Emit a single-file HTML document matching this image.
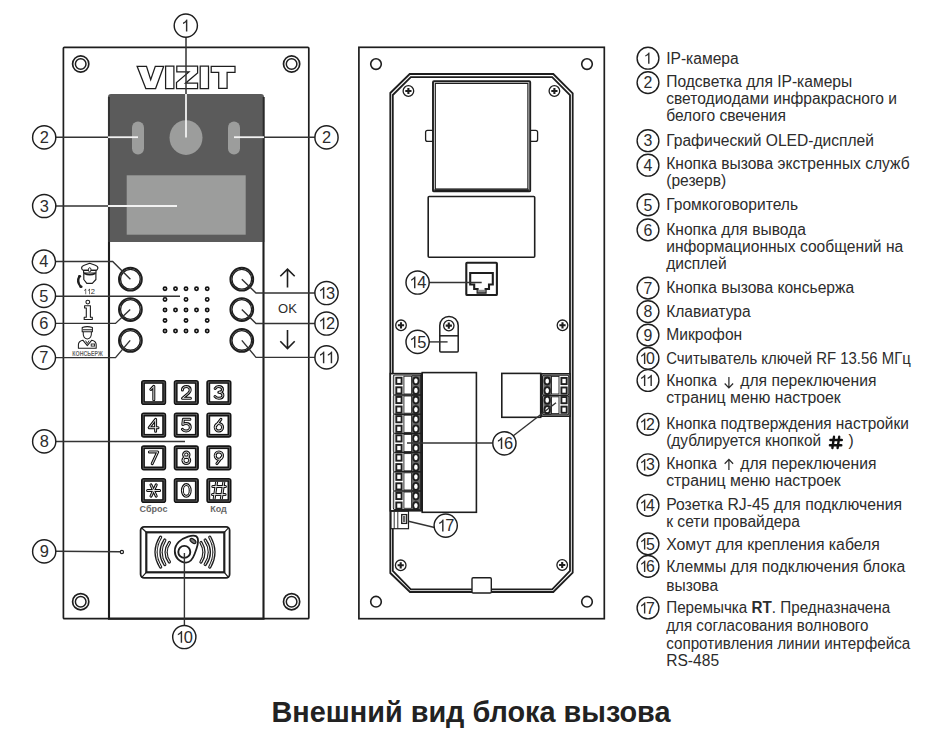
<!DOCTYPE html>
<html><head><meta charset="utf-8"><style>
html,body{margin:0;padding:0;background:#fff;}
svg{display:block;}
text{font-family:"Liberation Sans",sans-serif;}
</style></head><body>
<svg width="950" height="750" viewBox="0 0 950 750">
<rect width="950" height="750" fill="#fff"/>
<rect x="63.4" y="47.3" width="245.4" height="571.4" fill="#fff" stroke="#1e1e1e" stroke-width="1.7" rx="1"/>
<circle cx="80.7" cy="64" r="8.1" fill="none" stroke="#1e1e1e" stroke-width="1.7"/>
<circle cx="80.7" cy="64" r="5.3" fill="none" stroke="#1e1e1e" stroke-width="1.5"/>
<circle cx="291.6" cy="64" r="8.1" fill="none" stroke="#1e1e1e" stroke-width="1.7"/>
<circle cx="291.6" cy="64" r="5.3" fill="none" stroke="#1e1e1e" stroke-width="1.5"/>
<circle cx="80.7" cy="601.7" r="8.1" fill="none" stroke="#1e1e1e" stroke-width="1.7"/>
<circle cx="80.7" cy="601.7" r="5.3" fill="none" stroke="#1e1e1e" stroke-width="1.5"/>
<circle cx="291.6" cy="601.7" r="8.1" fill="none" stroke="#1e1e1e" stroke-width="1.7"/>
<circle cx="291.6" cy="601.7" r="5.3" fill="none" stroke="#1e1e1e" stroke-width="1.5"/>
<path d="M109,97 V618.6 H263.5 V97" fill="#fff" stroke="#1e1e1e" stroke-width="2.1"/>
<path d="M108,242 V97 Q108,94 111,94 H261 Q264,94 264,97 V242 Z" fill="#5b5b5b"/>
<path d="M109,97 V242 M263.5,97 V242" fill="none" stroke="#2a2a2a" stroke-width="1.6"/>
<rect x="132" y="121.5" width="12" height="33" rx="6" fill="#9c9d9c"/>
<rect x="228" y="121.5" width="12" height="33" rx="6" fill="#9c9d9c"/>
<ellipse cx="186" cy="137.6" rx="16.5" ry="17.3" fill="#9c9d9c"/>
<rect x="126.7" y="175.3" width="119" height="59.4" fill="#9c9d9c"/>
<polygon points="137.1,66.3 146.5,66.3 150.7,79.8 155.3,66.3 163.7,66.3 155.6,88.5 145.8,88.5" fill="#fff" stroke="#1e1e1e" stroke-width="1.25" stroke-linejoin="miter"/>
<polygon points="165.6,66.2 173.9,66.2 173.9,88.6 165.6,88.6" fill="#fff" stroke="#1e1e1e" stroke-width="1.25" stroke-linejoin="miter"/>
<polygon points="176.8,66.2 197.6,66.2 197.6,73 185.5,83.2 197.6,83.2 197.6,88.6 176.5,88.6 176.5,82.6 189,71.9 176.8,71.9" fill="#fff" stroke="#1e1e1e" stroke-width="1.25" stroke-linejoin="miter"/>
<polygon points="200.2,66.2 208.5,66.2 208.5,88.6 200.2,88.6" fill="#fff" stroke="#1e1e1e" stroke-width="1.25" stroke-linejoin="miter"/>
<polygon points="211.2,66.4 235,66.4 235,72.4 227.1,72.4 227.1,88.3 218.7,88.3 218.7,72.4 211.2,72.4" fill="#fff" stroke="#1e1e1e" stroke-width="1.25" stroke-linejoin="miter"/>
<polyline points="186,37 186,94" fill="none" stroke="#333" stroke-width="1.5"/>
<polyline points="186,94 186,137.5" fill="none" stroke="#f2f2f2" stroke-width="1.8"/>
<polyline points="55.5,137.2 108,137.2" fill="none" stroke="#333" stroke-width="1.4"/>
<polyline points="108,137.2 138,137.2" fill="none" stroke="#f2f2f2" stroke-width="1.8"/>
<polyline points="264,137.2 315,137.2" fill="none" stroke="#333" stroke-width="1.4"/>
<polyline points="234,137.2 264,137.2" fill="none" stroke="#f2f2f2" stroke-width="1.8"/>
<polyline points="55.5,206 108,206" fill="none" stroke="#333" stroke-width="1.4"/>
<polyline points="108,206 177,206" fill="none" stroke="#f2f2f2" stroke-width="1.8"/>
<circle cx="130.4" cy="279.2" r="11.4" fill="#fff" stroke="#1e1e1e" stroke-width="1.95"/>
<circle cx="130.4" cy="279.2" r="9.85" fill="none" stroke="#1e1e1e" stroke-width="1.35"/>
<circle cx="241.8" cy="279.2" r="11.4" fill="#fff" stroke="#1e1e1e" stroke-width="1.95"/>
<circle cx="241.8" cy="279.2" r="9.85" fill="none" stroke="#1e1e1e" stroke-width="1.35"/>
<circle cx="130.4" cy="309.5" r="11.4" fill="#fff" stroke="#1e1e1e" stroke-width="1.95"/>
<circle cx="130.4" cy="309.5" r="9.85" fill="none" stroke="#1e1e1e" stroke-width="1.35"/>
<circle cx="241.8" cy="309.5" r="11.4" fill="#fff" stroke="#1e1e1e" stroke-width="1.95"/>
<circle cx="241.8" cy="309.5" r="9.85" fill="none" stroke="#1e1e1e" stroke-width="1.35"/>
<circle cx="130.4" cy="340.4" r="11.4" fill="#fff" stroke="#1e1e1e" stroke-width="1.95"/>
<circle cx="130.4" cy="340.4" r="9.85" fill="none" stroke="#1e1e1e" stroke-width="1.35"/>
<circle cx="241.8" cy="340.4" r="11.4" fill="#fff" stroke="#1e1e1e" stroke-width="1.95"/>
<circle cx="241.8" cy="340.4" r="9.85" fill="none" stroke="#1e1e1e" stroke-width="1.35"/>
<polyline points="55.5,261.5 112.7,261.5 130.4,279.2" fill="none" stroke="#333" stroke-width="1.4"/>
<polyline points="55.5,296.2 180,296.2" fill="none" stroke="#333" stroke-width="1.4"/>
<polyline points="55.5,323.4 115.5,323.4 130.2,309.5" fill="none" stroke="#333" stroke-width="1.4"/>
<polyline points="55.5,357.6 115.5,357.6 130.2,340.4" fill="none" stroke="#333" stroke-width="1.4"/>
<polyline points="241.8,279.2 256,293 315,293" fill="none" stroke="#333" stroke-width="1.4"/>
<polyline points="241.8,309.5 256,323.5 315,323.5" fill="none" stroke="#333" stroke-width="1.4"/>
<polyline points="241.8,340.4 256,357.4 315,357.4" fill="none" stroke="#333" stroke-width="1.4"/>
<circle cx="165" cy="288.8" r="1.65" fill="#fff" stroke="#111" stroke-width="1.65"/>
<circle cx="175.5" cy="288.8" r="1.65" fill="#fff" stroke="#111" stroke-width="1.65"/>
<circle cx="186" cy="288.8" r="1.65" fill="#fff" stroke="#111" stroke-width="1.65"/>
<circle cx="196.5" cy="288.8" r="1.65" fill="#fff" stroke="#111" stroke-width="1.65"/>
<circle cx="207.2" cy="288.8" r="1.65" fill="#fff" stroke="#111" stroke-width="1.65"/>
<circle cx="165" cy="299.4" r="1.65" fill="#fff" stroke="#111" stroke-width="1.65"/>
<circle cx="186" cy="299.4" r="1.65" fill="#fff" stroke="#111" stroke-width="1.65"/>
<circle cx="207.2" cy="299.4" r="1.65" fill="#fff" stroke="#111" stroke-width="1.65"/>
<circle cx="165" cy="310" r="1.65" fill="#fff" stroke="#111" stroke-width="1.65"/>
<circle cx="175.5" cy="310" r="1.65" fill="#fff" stroke="#111" stroke-width="1.65"/>
<circle cx="186" cy="310" r="1.65" fill="#fff" stroke="#111" stroke-width="1.65"/>
<circle cx="196.5" cy="310" r="1.65" fill="#fff" stroke="#111" stroke-width="1.65"/>
<circle cx="207.2" cy="310" r="1.65" fill="#fff" stroke="#111" stroke-width="1.65"/>
<circle cx="165" cy="320.5" r="1.65" fill="#fff" stroke="#111" stroke-width="1.65"/>
<circle cx="186" cy="320.5" r="1.65" fill="#fff" stroke="#111" stroke-width="1.65"/>
<circle cx="207.2" cy="320.5" r="1.65" fill="#fff" stroke="#111" stroke-width="1.65"/>
<circle cx="165" cy="331" r="1.65" fill="#fff" stroke="#111" stroke-width="1.65"/>
<circle cx="175.5" cy="331" r="1.65" fill="#fff" stroke="#111" stroke-width="1.65"/>
<circle cx="186" cy="331" r="1.65" fill="#fff" stroke="#111" stroke-width="1.65"/>
<circle cx="196.5" cy="331" r="1.65" fill="#fff" stroke="#111" stroke-width="1.65"/>
<circle cx="207.2" cy="331" r="1.65" fill="#fff" stroke="#111" stroke-width="1.65"/>
<path d="M287.5,287.5 V269.3 M280.3,276.3 L287.5,269.1 L294.7,276.3" fill="none" stroke="#1e1e1e" stroke-width="1.6"/>
<text x="287.5" y="313.4" font-size="13" text-anchor="middle" fill="#2c2c2c">OK</text>
<path d="M287.5,330 V348.3 M280.3,341.3 L287.5,348.5 L294.7,341.3" fill="none" stroke="#1e1e1e" stroke-width="1.6"/>
<rect x="141.8" y="380.7" width="23.6" height="23.6" rx="2" fill="#141414" stroke="#141414" stroke-width="1.6"/>
<rect x="143.1" y="382.0" width="21" height="21" fill="none" stroke="#8a8a8a" stroke-width="0.55"/>
<rect x="144.9" y="383.79999999999995" width="17.3" height="17.4" fill="#fff"/>
<clipPath id="kc0"><rect x="144.9" y="383.79999999999995" width="17.3" height="17.4"/></clipPath>
<g clip-path="url(#kc0)">
<path d="M1.4,2.9 L4.4,-0.3 V13.2" transform="translate(149.4,386.59999999999997)" fill="none" stroke="#111" stroke-width="3.0" stroke-linecap="round" stroke-linejoin="round"/>
<path d="M1.4,2.9 L4.4,-0.3 V13.2" transform="translate(149.4,386.59999999999997)" fill="none" stroke="#fff" stroke-width="0.85" stroke-linecap="round" stroke-linejoin="round"/>
</g>
<rect x="174.5" y="380.7" width="23.6" height="23.6" rx="2" fill="#141414" stroke="#141414" stroke-width="1.6"/>
<rect x="175.79999999999998" y="382.0" width="21" height="21" fill="none" stroke="#8a8a8a" stroke-width="0.55"/>
<rect x="177.6" y="383.79999999999995" width="17.3" height="17.4" fill="#fff"/>
<clipPath id="kc1"><rect x="177.6" y="383.79999999999995" width="17.3" height="17.4"/></clipPath>
<g clip-path="url(#kc1)">
<path d="M0.3,3.3 C0.3,1.2 2,0 4.2,0 C6.4,0 8.1,1.3 8.1,3.4 C8.1,4.9 7.3,5.8 6.3,6.7 L0.4,11.7 H8.3" transform="translate(182.1,386.59999999999997)" fill="none" stroke="#111" stroke-width="3.0" stroke-linecap="round" stroke-linejoin="round"/>
<path d="M0.3,3.3 C0.3,1.2 2,0 4.2,0 C6.4,0 8.1,1.3 8.1,3.4 C8.1,4.9 7.3,5.8 6.3,6.7 L0.4,11.7 H8.3" transform="translate(182.1,386.59999999999997)" fill="none" stroke="#fff" stroke-width="0.85" stroke-linecap="round" stroke-linejoin="round"/>
</g>
<rect x="207.10000000000002" y="380.7" width="23.6" height="23.6" rx="2" fill="#141414" stroke="#141414" stroke-width="1.6"/>
<rect x="208.4" y="382.0" width="21" height="21" fill="none" stroke="#8a8a8a" stroke-width="0.55"/>
<rect x="210.20000000000002" y="383.79999999999995" width="17.3" height="17.4" fill="#fff"/>
<clipPath id="kc2"><rect x="210.20000000000002" y="383.79999999999995" width="17.3" height="17.4"/></clipPath>
<g clip-path="url(#kc2)">
<path d="M0.5,1.8 C1.2,0.6 2.6,0 4.1,0 C6.3,0 7.8,1.3 7.8,3 C7.8,4.6 6.4,5.6 4.1,5.6 C6.6,5.6 8.2,6.9 8.2,8.6 C8.2,10.5 6.5,11.7 4.1,11.7 C2.5,11.7 1,11 0.3,9.9" transform="translate(214.70000000000002,386.59999999999997)" fill="none" stroke="#111" stroke-width="3.0" stroke-linecap="round" stroke-linejoin="round"/>
<path d="M0.5,1.8 C1.2,0.6 2.6,0 4.1,0 C6.3,0 7.8,1.3 7.8,3 C7.8,4.6 6.4,5.6 4.1,5.6 C6.6,5.6 8.2,6.9 8.2,8.6 C8.2,10.5 6.5,11.7 4.1,11.7 C2.5,11.7 1,11 0.3,9.9" transform="translate(214.70000000000002,386.59999999999997)" fill="none" stroke="#fff" stroke-width="0.85" stroke-linecap="round" stroke-linejoin="round"/>
</g>
<rect x="141.8" y="413.40000000000003" width="23.6" height="23.6" rx="2" fill="#141414" stroke="#141414" stroke-width="1.6"/>
<rect x="143.1" y="414.70000000000005" width="21" height="21" fill="none" stroke="#8a8a8a" stroke-width="0.55"/>
<rect x="144.9" y="416.5" width="17.3" height="17.4" fill="#fff"/>
<clipPath id="kc3"><rect x="144.9" y="416.5" width="17.3" height="17.4"/></clipPath>
<g clip-path="url(#kc3)">
<path d="M6.2,11.9 V0 L-0.2,8.4 H8.6" transform="translate(149.4,419.3)" fill="none" stroke="#111" stroke-width="3.0" stroke-linecap="round" stroke-linejoin="round"/>
<path d="M6.2,11.9 V0 L-0.2,8.4 H8.6" transform="translate(149.4,419.3)" fill="none" stroke="#fff" stroke-width="0.85" stroke-linecap="round" stroke-linejoin="round"/>
</g>
<rect x="174.5" y="413.40000000000003" width="23.6" height="23.6" rx="2" fill="#141414" stroke="#141414" stroke-width="1.6"/>
<rect x="175.79999999999998" y="414.70000000000005" width="21" height="21" fill="none" stroke="#8a8a8a" stroke-width="0.55"/>
<rect x="177.6" y="416.5" width="17.3" height="17.4" fill="#fff"/>
<clipPath id="kc4"><rect x="177.6" y="416.5" width="17.3" height="17.4"/></clipPath>
<g clip-path="url(#kc4)">
<path d="M7.8,0 H1.3 L0.7,5.2 C1.5,4.6 2.7,4.3 4,4.3 C6.5,4.3 8.2,5.8 8.2,8 C8.2,10.2 6.4,11.7 4,11.7 C2.4,11.7 1,11.1 0.3,10" transform="translate(182.1,419.3)" fill="none" stroke="#111" stroke-width="3.0" stroke-linecap="round" stroke-linejoin="round"/>
<path d="M7.8,0 H1.3 L0.7,5.2 C1.5,4.6 2.7,4.3 4,4.3 C6.5,4.3 8.2,5.8 8.2,8 C8.2,10.2 6.4,11.7 4,11.7 C2.4,11.7 1,11.1 0.3,10" transform="translate(182.1,419.3)" fill="none" stroke="#fff" stroke-width="0.85" stroke-linecap="round" stroke-linejoin="round"/>
</g>
<rect x="207.10000000000002" y="413.40000000000003" width="23.6" height="23.6" rx="2" fill="#141414" stroke="#141414" stroke-width="1.6"/>
<rect x="208.4" y="414.70000000000005" width="21" height="21" fill="none" stroke="#8a8a8a" stroke-width="0.55"/>
<rect x="210.20000000000002" y="416.5" width="17.3" height="17.4" fill="#fff"/>
<clipPath id="kc5"><rect x="210.20000000000002" y="416.5" width="17.3" height="17.4"/></clipPath>
<g clip-path="url(#kc5)">
<path d="M6.2,0 L1.2,6.6 M0.5,8 A3.7,3.7 0 1 0 7.9,8 A3.7,3.7 0 1 0 0.5,8" transform="translate(214.70000000000002,419.3)" fill="none" stroke="#111" stroke-width="3.0" stroke-linecap="round" stroke-linejoin="round"/>
<path d="M6.2,0 L1.2,6.6 M0.5,8 A3.7,3.7 0 1 0 7.9,8 A3.7,3.7 0 1 0 0.5,8" transform="translate(214.70000000000002,419.3)" fill="none" stroke="#fff" stroke-width="0.85" stroke-linecap="round" stroke-linejoin="round"/>
</g>
<rect x="141.8" y="446.0" width="23.6" height="23.6" rx="2" fill="#141414" stroke="#141414" stroke-width="1.6"/>
<rect x="143.1" y="447.3" width="21" height="21" fill="none" stroke="#8a8a8a" stroke-width="0.55"/>
<rect x="144.9" y="449.09999999999997" width="17.3" height="17.4" fill="#fff"/>
<clipPath id="kc6"><rect x="144.9" y="449.09999999999997" width="17.3" height="17.4"/></clipPath>
<g clip-path="url(#kc6)">
<path d="M0,0 H8.3 L2.8,11.8" transform="translate(149.4,451.9)" fill="none" stroke="#111" stroke-width="3.0" stroke-linecap="round" stroke-linejoin="round"/>
<path d="M0,0 H8.3 L2.8,11.8" transform="translate(149.4,451.9)" fill="none" stroke="#fff" stroke-width="0.85" stroke-linecap="round" stroke-linejoin="round"/>
</g>
<rect x="174.5" y="446.0" width="23.6" height="23.6" rx="2" fill="#141414" stroke="#141414" stroke-width="1.6"/>
<rect x="175.79999999999998" y="447.3" width="21" height="21" fill="none" stroke="#8a8a8a" stroke-width="0.55"/>
<rect x="177.6" y="449.09999999999997" width="17.3" height="17.4" fill="#fff"/>
<clipPath id="kc7"><rect x="177.6" y="449.09999999999997" width="17.3" height="17.4"/></clipPath>
<g clip-path="url(#kc7)">
<path d="M1.5,2.8 A2.7,2.7 0 1 0 6.9,2.8 A2.7,2.7 0 1 0 1.5,2.8 M0.8,8.4 A3.4,3.3 0 1 0 7.6,8.4 A3.4,3.3 0 1 0 0.8,8.4" transform="translate(182.1,451.9)" fill="none" stroke="#111" stroke-width="3.0" stroke-linecap="round" stroke-linejoin="round"/>
<path d="M1.5,2.8 A2.7,2.7 0 1 0 6.9,2.8 A2.7,2.7 0 1 0 1.5,2.8 M0.8,8.4 A3.4,3.3 0 1 0 7.6,8.4 A3.4,3.3 0 1 0 0.8,8.4" transform="translate(182.1,451.9)" fill="none" stroke="#fff" stroke-width="0.85" stroke-linecap="round" stroke-linejoin="round"/>
</g>
<rect x="207.10000000000002" y="446.0" width="23.6" height="23.6" rx="2" fill="#141414" stroke="#141414" stroke-width="1.6"/>
<rect x="208.4" y="447.3" width="21" height="21" fill="none" stroke="#8a8a8a" stroke-width="0.55"/>
<rect x="210.20000000000002" y="449.09999999999997" width="17.3" height="17.4" fill="#fff"/>
<clipPath id="kc8"><rect x="210.20000000000002" y="449.09999999999997" width="17.3" height="17.4"/></clipPath>
<g clip-path="url(#kc8)">
<path d="M0.5,3.7 A3.7,3.7 0 1 0 7.9,3.7 A3.7,3.7 0 1 0 0.5,3.7 M7.2,5.1 L2.2,11.7" transform="translate(214.70000000000002,451.9)" fill="none" stroke="#111" stroke-width="3.0" stroke-linecap="round" stroke-linejoin="round"/>
<path d="M0.5,3.7 A3.7,3.7 0 1 0 7.9,3.7 A3.7,3.7 0 1 0 0.5,3.7 M7.2,5.1 L2.2,11.7" transform="translate(214.70000000000002,451.9)" fill="none" stroke="#fff" stroke-width="0.85" stroke-linecap="round" stroke-linejoin="round"/>
</g>
<rect x="141.8" y="478.7" width="23.6" height="23.6" rx="2" fill="#141414" stroke="#141414" stroke-width="1.6"/>
<rect x="143.1" y="480.0" width="21" height="21" fill="none" stroke="#8a8a8a" stroke-width="0.55"/>
<rect x="144.9" y="481.79999999999995" width="17.3" height="17.4" fill="#fff"/>
<clipPath id="kc9"><rect x="144.9" y="481.79999999999995" width="17.3" height="17.4"/></clipPath>
<g clip-path="url(#kc9)">
<path d="M-1.8,5.9 H10.2 M1.6,0.3 L6.8,11.5 M6.8,0.3 L1.6,11.5" transform="translate(149.4,484.59999999999997)" fill="none" stroke="#111" stroke-width="3.0" stroke-linecap="round" stroke-linejoin="round"/>
<path d="M-1.8,5.9 H10.2 M1.6,0.3 L6.8,11.5 M6.8,0.3 L1.6,11.5" transform="translate(149.4,484.59999999999997)" fill="none" stroke="#fff" stroke-width="0.85" stroke-linecap="round" stroke-linejoin="round"/>
</g>
<rect x="174.5" y="478.7" width="23.6" height="23.6" rx="2" fill="#141414" stroke="#141414" stroke-width="1.6"/>
<rect x="175.79999999999998" y="480.0" width="21" height="21" fill="none" stroke="#8a8a8a" stroke-width="0.55"/>
<rect x="177.6" y="481.79999999999995" width="17.3" height="17.4" fill="#fff"/>
<clipPath id="kc10"><rect x="177.6" y="481.79999999999995" width="17.3" height="17.4"/></clipPath>
<g clip-path="url(#kc10)">
<path d="M0.3,5.85 A3.9,5.85 0 1 0 8.1,5.85 A3.9,5.85 0 1 0 0.3,5.85" transform="translate(182.1,484.59999999999997)" fill="none" stroke="#111" stroke-width="3.0" stroke-linecap="round" stroke-linejoin="round"/>
<path d="M0.3,5.85 A3.9,5.85 0 1 0 8.1,5.85 A3.9,5.85 0 1 0 0.3,5.85" transform="translate(182.1,484.59999999999997)" fill="none" stroke="#fff" stroke-width="0.85" stroke-linecap="round" stroke-linejoin="round"/>
</g>
<rect x="207.10000000000002" y="478.7" width="23.6" height="23.6" rx="2" fill="#141414" stroke="#141414" stroke-width="1.6"/>
<rect x="208.4" y="480.0" width="21" height="21" fill="none" stroke="#8a8a8a" stroke-width="0.55"/>
<rect x="210.20000000000002" y="481.79999999999995" width="17.3" height="17.4" fill="#fff"/>
<clipPath id="kc11"><rect x="210.20000000000002" y="481.79999999999995" width="17.3" height="17.4"/></clipPath>
<g clip-path="url(#kc11)">
<path d="M1.9,-2.6 L-0.5,14 M9.1,-2.6 L6.7,14 M-1.9,1.9 H10.7 M-2.2,10 H10.4" transform="translate(214.70000000000002,484.59999999999997)" fill="none" stroke="#111" stroke-width="3.0" stroke-linecap="round" stroke-linejoin="round"/>
<path d="M1.9,-2.6 L-0.5,14 M9.1,-2.6 L6.7,14 M-1.9,1.9 H10.7 M-2.2,10 H10.4" transform="translate(214.70000000000002,484.59999999999997)" fill="none" stroke="#fff" stroke-width="0.85" stroke-linecap="round" stroke-linejoin="round"/>
</g>
<text x="153.5" y="511.8" font-size="9" font-weight="bold" text-anchor="middle" fill="#666">Сброс</text>
<text x="218.5" y="511.8" font-size="9" font-weight="bold" text-anchor="middle" fill="#666">Код</text>
<polyline points="55.5,441.5 185,441.5" fill="none" stroke="#333" stroke-width="1.4"/>
<rect x="140.6" y="526.8" width="89" height="51" rx="3.5" fill="#fff" stroke="#1e1e1e" stroke-width="1.8"/>
<rect x="146.3" y="532.3" width="78" height="40" fill="none" stroke="#1e1e1e" stroke-width="2.2"/>
<path d="M141.5,527.7 L146.3,532.3 M228.7,527.7 L224.3,532.3 M141.5,577.7 L146.3,572.3 M228.7,577.7 L224.3,572.3" stroke="#1e1e1e" stroke-width="1.2"/>
<path d="M160.6,537.2 Q151.4,552.1 160.6,567 M164.8,540.1 Q157.2,552.3 164.8,564.5 M169.4,542.6 Q162.6,552.3 169.4,562 M209.8,537.2 Q218.2,552.1 209.8,567 M205.2,540.1 Q213.6,552.3 205.2,564.5 M201,542.6 Q207,552.3 201,562" fill="none" stroke="#1e1e1e" stroke-width="3.3" stroke-linecap="round"/>
<path d="M160.6,537.2 Q151.4,552.1 160.6,567 M164.8,540.1 Q157.2,552.3 164.8,564.5 M169.4,542.6 Q162.6,552.3 169.4,562 M209.8,537.2 Q218.2,552.1 209.8,567 M205.2,540.1 Q213.6,552.3 205.2,564.5 M201,542.6 Q207,552.3 201,562" fill="none" stroke="#fff" stroke-width="0.95" stroke-linecap="round"/>
<path d="M186,562.6 C179.5,562.6 174.8,557.5 174.8,551 C174.8,544 181,538.7 188,536.6 C193,535.1 196.8,535.2 197.8,538.5 C198.8,542 197,548 194.6,554 C192.6,559.5 190,562.6 186,562.6 Z" fill="#fff" stroke="#1e1e1e" stroke-width="1.8"/>
<circle cx="184.3" cy="551.9" r="6" fill="#fff" stroke="#1e1e1e" stroke-width="1.9"/>
<ellipse cx="193" cy="541" rx="3.3" ry="1.7" transform="rotate(35 193 541)" fill="#fff" stroke="#1e1e1e" stroke-width="1.3"/>
<ellipse cx="193" cy="541" rx="2.1" ry="0.5" transform="rotate(35 193 541)" fill="none" stroke="#1e1e1e" stroke-width="0.7"/>
<circle cx="121.9" cy="552" r="1.6" fill="#fff" stroke="#1e1e1e" stroke-width="1.2"/>
<polyline points="55.5,551.3 120.2,551.8" fill="none" stroke="#333" stroke-width="1.4"/>
<polyline points="184.4,553 184.4,625.5" fill="none" stroke="#333" stroke-width="1.4"/>
<g fill="#fff" stroke="#1e1e1e" stroke-width="1.15" stroke-linejoin="round"><path d="M83.8,273.3 V279.5 L86.8,283.4 H92.3 L95.9,279.5 V273.3"/><path d="M81.6,268.2 Q81.4,266.3 84.2,265.2 L89.7,263.3 L95.3,265.2 Q98.1,266.3 97.9,268.2 Q97.4,270.4 96,270.4 H83.4 Q82,270.4 81.6,268.2 Z"/><rect x="83.6" y="270.4" width="12.4" height="2.6"/></g>
<path d="M84,273.2 Q89.8,276.2 95.6,273.2" fill="none" stroke="#1e1e1e" stroke-width="1.6"/>
<ellipse cx="89.7" cy="269.8" rx="1.3" ry="2.1" fill="#fff" stroke="#1e1e1e" stroke-width="1"/>
<path d="M79.4,276.4 Q76.4,281.5 80.6,286.6" fill="none" stroke="#1e1e1e" stroke-width="2.3" stroke-linecap="round"/>
<ellipse cx="79.6" cy="276.3" rx="1.5" ry="1.3" fill="#1e1e1e"/>
<ellipse cx="81" cy="286.8" rx="1.6" ry="1.3" fill="#1e1e1e"/>
<path d="M763,0 H583 V1147 Q518,1085 412,1023 Q306,961 222,930 V1104 Q373,1175 486,1276 Q599,1377 646,1472 H763 Z" transform="translate(83.31,294.30) scale(0.00371,-0.00371)" fill="#333"/>
<path d="M763,0 H583 V1147 Q518,1085 412,1023 Q306,961 222,930 V1104 Q373,1175 486,1276 Q599,1377 646,1472 H763 Z" transform="translate(87.09,294.30) scale(0.00371,-0.00371)" fill="#333"/>
<text x="90.86" y="294.30" font-size="7.6" fill="#333">2</text>
<circle cx="87.8" cy="302.1" r="1.9" fill="#fff" stroke="#1e1e1e" stroke-width="1.1"/>
<path d="M84.6,305.8 H90.4 V317.2 H92.3 V319.5 H84.2 V317.2 H86.3 V308 H84.6 Z" fill="#fff" stroke="#1e1e1e" stroke-width="1.1" stroke-linejoin="round"/>
<g fill="#fff" stroke="#1e1e1e" stroke-width="1.05" stroke-linejoin="round"><path d="M78.4,348.3 V344.8 Q78.4,341.2 82.8,340.2 L87.3,345.6 L91.8,340.2 Q96.2,341.2 96.2,344.8 V348.3 Z"/><path d="M83.2,331.6 Q82.8,338.8 87.3,338.9 Q91.8,338.8 91.4,331.6"/><path d="M82.2,331.8 V327.6 Q87.3,325.6 92.4,327.6 V331.8 Z"/></g>
<path d="M82.6,329.7 H92" stroke="#555" stroke-width="1.4"/>
<path d="M85.6,340.6 L87.3,343.6 L89,340.6" fill="none" stroke="#1e1e1e" stroke-width="0.9"/>
<rect x="91.2" y="344" width="3.4" height="2.1" fill="#fff" stroke="#1e1e1e" stroke-width="0.9"/>
<text x="87.6" y="355.7" font-size="6.3" font-weight="bold" text-anchor="middle" fill="#666" textLength="30.5" lengthAdjust="spacingAndGlyphs">КОНСЬЕРЖ</text>
<circle cx="185.8" cy="25.6" r="11.6" fill="#fff" stroke="#1e1e1e" stroke-width="1.45"/>
<path d="M763,0 H583 V1147 Q518,1085 412,1023 Q306,961 222,930 V1104 Q373,1175 486,1276 Q599,1377 646,1472 H763 Z" transform="translate(181.24,31.40) scale(0.00801,-0.00801)" fill="#2c2c2c"/>
<circle cx="44.2" cy="137.4" r="11.6" fill="#fff" stroke="#1e1e1e" stroke-width="1.45"/>
<text x="39.64" y="143.20" font-size="16.4" fill="#2c2c2c">2</text>
<circle cx="326.5" cy="137.4" r="11.6" fill="#fff" stroke="#1e1e1e" stroke-width="1.45"/>
<text x="321.94" y="143.20" font-size="16.4" fill="#2c2c2c">2</text>
<circle cx="44.2" cy="206" r="11.6" fill="#fff" stroke="#1e1e1e" stroke-width="1.45"/>
<text x="39.64" y="211.80" font-size="16.4" fill="#2c2c2c">3</text>
<circle cx="43.9" cy="261.5" r="11.6" fill="#fff" stroke="#1e1e1e" stroke-width="1.45"/>
<text x="39.34" y="267.30" font-size="16.4" fill="#2c2c2c">4</text>
<circle cx="43.9" cy="295.8" r="11.6" fill="#fff" stroke="#1e1e1e" stroke-width="1.45"/>
<text x="39.34" y="301.60" font-size="16.4" fill="#2c2c2c">5</text>
<circle cx="43.9" cy="323.4" r="11.6" fill="#fff" stroke="#1e1e1e" stroke-width="1.45"/>
<text x="39.34" y="329.20" font-size="16.4" fill="#2c2c2c">6</text>
<circle cx="43.9" cy="357.6" r="11.6" fill="#fff" stroke="#1e1e1e" stroke-width="1.45"/>
<text x="39.34" y="363.40" font-size="16.4" fill="#2c2c2c">7</text>
<circle cx="44.2" cy="441.4" r="11.6" fill="#fff" stroke="#1e1e1e" stroke-width="1.45"/>
<text x="39.64" y="447.20" font-size="16.4" fill="#2c2c2c">8</text>
<circle cx="44.2" cy="551.4" r="11.6" fill="#fff" stroke="#1e1e1e" stroke-width="1.45"/>
<text x="39.64" y="557.20" font-size="16.4" fill="#2c2c2c">9</text>
<circle cx="184.3" cy="637" r="11.6" fill="#fff" stroke="#1e1e1e" stroke-width="1.45"/>
<path d="M763,0 H583 V1147 Q518,1085 412,1023 Q306,961 222,930 V1104 Q373,1175 486,1276 Q599,1377 646,1472 H763 Z" transform="translate(176.03,642.80) scale(0.00801,-0.00801)" fill="#2c2c2c"/>
<text x="183.85" y="642.80" font-size="16.4" fill="#2c2c2c">0</text>
<circle cx="326.5" cy="293" r="11.6" fill="#fff" stroke="#1e1e1e" stroke-width="1.45"/>
<path d="M763,0 H583 V1147 Q518,1085 412,1023 Q306,961 222,930 V1104 Q373,1175 486,1276 Q599,1377 646,1472 H763 Z" transform="translate(318.23,298.80) scale(0.00801,-0.00801)" fill="#2c2c2c"/>
<text x="326.05" y="298.80" font-size="16.4" fill="#2c2c2c">3</text>
<circle cx="326.5" cy="323.5" r="11.6" fill="#fff" stroke="#1e1e1e" stroke-width="1.45"/>
<path d="M763,0 H583 V1147 Q518,1085 412,1023 Q306,961 222,930 V1104 Q373,1175 486,1276 Q599,1377 646,1472 H763 Z" transform="translate(318.23,329.30) scale(0.00801,-0.00801)" fill="#2c2c2c"/>
<text x="326.05" y="329.30" font-size="16.4" fill="#2c2c2c">2</text>
<circle cx="326.5" cy="357.4" r="11.6" fill="#fff" stroke="#1e1e1e" stroke-width="1.45"/>
<path d="M763,0 H583 V1147 Q518,1085 412,1023 Q306,961 222,930 V1104 Q373,1175 486,1276 Q599,1377 646,1472 H763 Z" transform="translate(318.23,363.20) scale(0.00801,-0.00801)" fill="#2c2c2c"/>
<path d="M763,0 H583 V1147 Q518,1085 412,1023 Q306,961 222,930 V1104 Q373,1175 486,1276 Q599,1377 646,1472 H763 Z" transform="translate(326.05,363.20) scale(0.00801,-0.00801)" fill="#2c2c2c"/>
<rect x="358.9" y="47.3" width="245.4" height="571.4" fill="#fff" stroke="#1e1e1e" stroke-width="1.7"/>
<circle cx="376" cy="64.1" r="5.3" fill="none" stroke="#1e1e1e" stroke-width="1.6"/>
<circle cx="587" cy="64.1" r="5.3" fill="none" stroke="#1e1e1e" stroke-width="1.6"/>
<circle cx="376" cy="601.7" r="5.3" fill="none" stroke="#1e1e1e" stroke-width="1.6"/>
<circle cx="587" cy="601.7" r="5.3" fill="none" stroke="#1e1e1e" stroke-width="1.6"/>
<path d="M390.3,573 V93 L409.7,74 H553.3 L572.7,93.4 V572.6 L553.3,592 H410 Z" fill="none" stroke="#1e1e1e" stroke-width="1.8"/>
<path d="M392.8,571 V95 L410.8,77.2 H552.2 L570,95 V571 L552.2,589.3 H410.8 Z" fill="none" stroke="#1e1e1e" stroke-width="1.8"/>
<circle cx="408.4" cy="91" r="5.3" fill="#fff" stroke="#1e1e1e" stroke-width="1.3"/>
<path d="M405.29999999999995,91 H411.5 M408.4,87.9 V94.1" stroke="#1e1e1e" stroke-width="2.1"/>
<circle cx="554.4" cy="91" r="5.3" fill="#fff" stroke="#1e1e1e" stroke-width="1.3"/>
<path d="M551.3,91 H557.5 M554.4,87.9 V94.1" stroke="#1e1e1e" stroke-width="2.1"/>
<circle cx="401" cy="325.3" r="5.3" fill="#fff" stroke="#1e1e1e" stroke-width="1.3"/>
<path d="M397.9,325.3 H404.1 M401,322.2 V328.40000000000003" stroke="#1e1e1e" stroke-width="2.1"/>
<circle cx="562.5" cy="325.3" r="5.3" fill="#fff" stroke="#1e1e1e" stroke-width="1.3"/>
<path d="M559.4,325.3 H565.6 M562.5,322.2 V328.40000000000003" stroke="#1e1e1e" stroke-width="2.1"/>
<circle cx="400.7" cy="565.3" r="5.3" fill="#fff" stroke="#1e1e1e" stroke-width="1.3"/>
<path d="M397.59999999999997,565.3 H403.8 M400.7,562.1999999999999 V568.4" stroke="#1e1e1e" stroke-width="2.1"/>
<circle cx="562.2" cy="565" r="5.3" fill="#fff" stroke="#1e1e1e" stroke-width="1.3"/>
<path d="M559.1,565 H565.3000000000001 M562.2,561.9 V568.1" stroke="#1e1e1e" stroke-width="2.1"/>
<rect x="425.6" y="130.3" width="8" height="11.1" rx="2" fill="#fff" stroke="#1e1e1e" stroke-width="1.3"/>
<rect x="529.6" y="130.3" width="8" height="11.1" rx="2" fill="#fff" stroke="#1e1e1e" stroke-width="1.3"/>
<rect x="433" y="81.2" width="97.2" height="110.2" rx="1" fill="#fff" stroke="#1e1e1e" stroke-width="1.9"/>
<rect x="435.3" y="83.4" width="92.6" height="105.6" fill="none" stroke="#1e1e1e" stroke-width="1.2"/>
<path d="M434.3,190.1 H528.9" stroke="#1e1e1e" stroke-width="1.9"/>
<rect x="428.2" y="196.5" width="106.5" height="60.8" rx="1" fill="#fff" stroke="#1e1e1e" stroke-width="1.6"/>
<rect x="466.3" y="262.7" width="30.6" height="32.3" rx="0.8" fill="#fff" stroke="#1e1e1e" stroke-width="2.1"/>
<path d="M470.2,273 H492.8 V284.5 H489 V289 H485.6 V292.6 H477.6 V289 H474.2 V284.5 H470.2 Z" fill="#fff" stroke="#1e1e1e" stroke-width="2.1"/>
<rect x="477.6" y="289.8" width="8" height="2.6" fill="#888"/>
<path d="M439.8,351 V325.6 A9.2,9.2 0 0 1 458.2,325.6 V351 Q458.2,352 457.2,352 H440.8 Q439.8,352 439.8,351 Z" fill="#fff" stroke="#1e1e1e" stroke-width="1.5"/>
<path d="M439.8,335.8 H458.2" stroke="#1e1e1e" stroke-width="1.5"/>
<circle cx="448.8" cy="325.6" r="5.2" fill="#fff" stroke="#1e1e1e" stroke-width="1.3"/>
<path d="M445.7,325.6 H451.90000000000003 M448.8,322.5 V328.70000000000005" stroke="#1e1e1e" stroke-width="2.1"/>
<rect x="422.2" y="372.6" width="54.2" height="139.7" fill="#fff" stroke="#1e1e1e" stroke-width="1.6"/>
<rect x="390.3" y="373.6" width="31.4" height="137.2" fill="#fff" stroke="#1e1e1e" stroke-width="1.6"/>
<rect x="412" y="375" width="9" height="134.5" fill="#6a6a6a"/>
<rect x="393.4" y="375" width="27.6" height="20.19999999999999" rx="1.5" fill="none" stroke="#1e1e1e" stroke-width="1.1"/>
<rect x="403.9" y="376.2" width="7.7" height="17.79999999999999" fill="#fff" stroke="#1e1e1e" stroke-width="0.9"/>
<rect x="393.4" y="394.8" width="27.6" height="19.599999999999966" rx="1.5" fill="none" stroke="#1e1e1e" stroke-width="1.1"/>
<rect x="403.9" y="396.0" width="7.7" height="17.199999999999967" fill="#fff" stroke="#1e1e1e" stroke-width="0.9"/>
<rect x="393.4" y="414.0" width="27.6" height="19.599999999999966" rx="1.5" fill="none" stroke="#1e1e1e" stroke-width="1.1"/>
<rect x="403.9" y="415.2" width="7.7" height="17.199999999999967" fill="#fff" stroke="#1e1e1e" stroke-width="0.9"/>
<rect x="393.4" y="433.20000000000005" width="27.6" height="19.59999999999991" rx="1.5" fill="none" stroke="#1e1e1e" stroke-width="1.1"/>
<rect x="403.9" y="434.40000000000003" width="7.7" height="17.19999999999991" fill="#fff" stroke="#1e1e1e" stroke-width="0.9"/>
<rect x="393.4" y="452.40000000000003" width="27.6" height="19.599999999999966" rx="1.5" fill="none" stroke="#1e1e1e" stroke-width="1.1"/>
<rect x="403.9" y="453.6" width="7.7" height="17.199999999999967" fill="#fff" stroke="#1e1e1e" stroke-width="0.9"/>
<rect x="393.4" y="471.6" width="27.6" height="19.599999999999966" rx="1.5" fill="none" stroke="#1e1e1e" stroke-width="1.1"/>
<rect x="403.9" y="472.8" width="7.7" height="17.199999999999967" fill="#fff" stroke="#1e1e1e" stroke-width="0.9"/>
<rect x="393.4" y="490.8" width="27.6" height="18.69999999999999" rx="1.5" fill="none" stroke="#1e1e1e" stroke-width="1.1"/>
<rect x="403.9" y="492.0" width="7.7" height="16.29999999999999" fill="#fff" stroke="#1e1e1e" stroke-width="0.9"/>
<rect x="396.3" y="377.7" width="5.3" height="6.2" fill="#fff" stroke="#1e1e1e" stroke-width="1.9"/>
<ellipse cx="415.9" cy="380.8" rx="2.7" ry="3.5" fill="#fff" stroke="#1e1e1e" stroke-width="1.8"/>
<rect x="396.3" y="387.3" width="5.3" height="6.2" fill="#fff" stroke="#1e1e1e" stroke-width="1.9"/>
<ellipse cx="415.9" cy="390.40000000000003" rx="2.7" ry="3.5" fill="#fff" stroke="#1e1e1e" stroke-width="1.8"/>
<rect x="396.3" y="396.9" width="5.3" height="6.2" fill="#fff" stroke="#1e1e1e" stroke-width="1.9"/>
<ellipse cx="415.9" cy="400.0" rx="2.7" ry="3.5" fill="#fff" stroke="#1e1e1e" stroke-width="1.8"/>
<rect x="396.3" y="406.5" width="5.3" height="6.2" fill="#fff" stroke="#1e1e1e" stroke-width="1.9"/>
<ellipse cx="415.9" cy="409.6" rx="2.7" ry="3.5" fill="#fff" stroke="#1e1e1e" stroke-width="1.8"/>
<rect x="396.3" y="416.09999999999997" width="5.3" height="6.2" fill="#fff" stroke="#1e1e1e" stroke-width="1.9"/>
<ellipse cx="415.9" cy="419.2" rx="2.7" ry="3.5" fill="#fff" stroke="#1e1e1e" stroke-width="1.8"/>
<rect x="396.3" y="425.7" width="5.3" height="6.2" fill="#fff" stroke="#1e1e1e" stroke-width="1.9"/>
<ellipse cx="415.9" cy="428.8" rx="2.7" ry="3.5" fill="#fff" stroke="#1e1e1e" stroke-width="1.8"/>
<rect x="396.3" y="435.29999999999995" width="5.3" height="6.2" fill="#fff" stroke="#1e1e1e" stroke-width="1.9"/>
<ellipse cx="415.9" cy="438.4" rx="2.7" ry="3.5" fill="#fff" stroke="#1e1e1e" stroke-width="1.8"/>
<rect x="396.3" y="444.9" width="5.3" height="6.2" fill="#fff" stroke="#1e1e1e" stroke-width="1.9"/>
<ellipse cx="415.9" cy="448.0" rx="2.7" ry="3.5" fill="#fff" stroke="#1e1e1e" stroke-width="1.8"/>
<rect x="396.3" y="454.5" width="5.3" height="6.2" fill="#fff" stroke="#1e1e1e" stroke-width="1.9"/>
<ellipse cx="415.9" cy="457.6" rx="2.7" ry="3.5" fill="#fff" stroke="#1e1e1e" stroke-width="1.8"/>
<rect x="396.3" y="464.09999999999997" width="5.3" height="6.2" fill="#fff" stroke="#1e1e1e" stroke-width="1.9"/>
<ellipse cx="415.9" cy="467.2" rx="2.7" ry="3.5" fill="#fff" stroke="#1e1e1e" stroke-width="1.8"/>
<rect x="396.3" y="473.7" width="5.3" height="6.2" fill="#fff" stroke="#1e1e1e" stroke-width="1.9"/>
<ellipse cx="415.9" cy="476.8" rx="2.7" ry="3.5" fill="#fff" stroke="#1e1e1e" stroke-width="1.8"/>
<rect x="396.3" y="483.29999999999995" width="5.3" height="6.2" fill="#fff" stroke="#1e1e1e" stroke-width="1.9"/>
<ellipse cx="415.9" cy="486.4" rx="2.7" ry="3.5" fill="#fff" stroke="#1e1e1e" stroke-width="1.8"/>
<rect x="396.3" y="492.9" width="5.3" height="6.2" fill="#fff" stroke="#1e1e1e" stroke-width="1.9"/>
<ellipse cx="415.9" cy="496.0" rx="2.7" ry="3.5" fill="#fff" stroke="#1e1e1e" stroke-width="1.8"/>
<rect x="396.3" y="502.5" width="5.3" height="6.2" fill="#fff" stroke="#1e1e1e" stroke-width="1.9"/>
<ellipse cx="415.9" cy="505.6" rx="2.7" ry="3.5" fill="#fff" stroke="#1e1e1e" stroke-width="1.8"/>
<path d="M394,376 V508" stroke="#888" stroke-width="0.8"/>
<path d="M421.6,373.5 V511" stroke="#1e1e1e" stroke-width="2.2"/>
<rect x="501.8" y="373.4" width="38.9" height="43.9" fill="#fff" stroke="#1e1e1e" stroke-width="1.6"/>
<rect x="541" y="373.8" width="29" height="42.4" fill="#fff" stroke="#1e1e1e" stroke-width="1.6"/>
<rect x="543.3" y="375.5" width="8" height="39.5" fill="#6a6a6a"/>
<rect x="542.5" y="375.2" width="26.3" height="20.0" rx="1.5" fill="none" stroke="#1e1e1e" stroke-width="1.1"/>
<rect x="551.5" y="376.4" width="7.5" height="17.6" fill="#fff" stroke="#1e1e1e" stroke-width="0.9"/>
<rect x="542.5" y="395.6" width="26.3" height="19.19999999999999" rx="1.5" fill="none" stroke="#1e1e1e" stroke-width="1.1"/>
<rect x="551.5" y="396.8" width="7.5" height="16.79999999999999" fill="#fff" stroke="#1e1e1e" stroke-width="0.9"/>
<ellipse cx="547.2" cy="381.0" rx="2.7" ry="3.5" fill="#fff" stroke="#1e1e1e" stroke-width="1.8"/>
<rect x="561.4" y="377.9" width="5.3" height="6.2" fill="#fff" stroke="#1e1e1e" stroke-width="1.9"/>
<ellipse cx="547.2" cy="390.57" rx="2.7" ry="3.5" fill="#fff" stroke="#1e1e1e" stroke-width="1.8"/>
<rect x="561.4" y="387.46999999999997" width="5.3" height="6.2" fill="#fff" stroke="#1e1e1e" stroke-width="1.9"/>
<ellipse cx="547.2" cy="400.14" rx="2.7" ry="3.5" fill="#fff" stroke="#1e1e1e" stroke-width="1.8"/>
<rect x="561.4" y="397.03999999999996" width="5.3" height="6.2" fill="#fff" stroke="#1e1e1e" stroke-width="1.9"/>
<ellipse cx="547.2" cy="409.71" rx="2.7" ry="3.5" fill="#fff" stroke="#1e1e1e" stroke-width="1.8"/>
<rect x="561.4" y="406.60999999999996" width="5.3" height="6.2" fill="#fff" stroke="#1e1e1e" stroke-width="1.9"/>
<path d="M541.2,373.5 V416.3" stroke="#1e1e1e" stroke-width="2.2"/>
<rect x="391" y="511.3" width="17.5" height="17.4" fill="#fff" stroke="#1e1e1e" stroke-width="1.2"/>
<path d="M394.2,511.3 V528.7 M397.8,511.3 V528.7" stroke="#1e1e1e" stroke-width="0.9"/>
<rect x="401.7" y="514.6" width="5" height="8.8" fill="#fff" stroke="#1e1e1e" stroke-width="1.3"/>
<rect x="403" y="516" width="2.4" height="6" fill="#666"/>
<rect x="472" y="577.8" width="19.3" height="15.2" rx="1.2" fill="#fff" stroke="#1e1e1e" stroke-width="1.4"/>
<polyline points="429,282.5 481.7,282.5" fill="none" stroke="#333" stroke-width="1.4"/>
<polyline points="429,341.9 447.6,341.9" fill="none" stroke="#333" stroke-width="1.4"/>
<polyline points="407,443 492.6,443" fill="none" stroke="#333" stroke-width="1.4"/>
<polyline points="512.7,436.2 556,402.7" fill="none" stroke="#333" stroke-width="1.4"/>
<polyline points="408.5,521.3 434.6,527.5" fill="none" stroke="#333" stroke-width="1.4"/>
<circle cx="417.6" cy="282.5" r="11.6" fill="#fff" stroke="#1e1e1e" stroke-width="1.45"/>
<path d="M763,0 H583 V1147 Q518,1085 412,1023 Q306,961 222,930 V1104 Q373,1175 486,1276 Q599,1377 646,1472 H763 Z" transform="translate(409.33,288.30) scale(0.00801,-0.00801)" fill="#2c2c2c"/>
<text x="417.15" y="288.30" font-size="16.4" fill="#2c2c2c">4</text>
<circle cx="417.6" cy="341.9" r="11.6" fill="#fff" stroke="#1e1e1e" stroke-width="1.45"/>
<path d="M763,0 H583 V1147 Q518,1085 412,1023 Q306,961 222,930 V1104 Q373,1175 486,1276 Q599,1377 646,1472 H763 Z" transform="translate(409.33,347.70) scale(0.00801,-0.00801)" fill="#2c2c2c"/>
<text x="417.15" y="347.70" font-size="16.4" fill="#2c2c2c">5</text>
<circle cx="504.4" cy="443.3" r="11.6" fill="#fff" stroke="#1e1e1e" stroke-width="1.45"/>
<path d="M763,0 H583 V1147 Q518,1085 412,1023 Q306,961 222,930 V1104 Q373,1175 486,1276 Q599,1377 646,1472 H763 Z" transform="translate(496.13,449.10) scale(0.00801,-0.00801)" fill="#2c2c2c"/>
<text x="503.95" y="449.10" font-size="16.4" fill="#2c2c2c">6</text>
<circle cx="445.7" cy="525.6" r="11.6" fill="#fff" stroke="#1e1e1e" stroke-width="1.45"/>
<path d="M763,0 H583 V1147 Q518,1085 412,1023 Q306,961 222,930 V1104 Q373,1175 486,1276 Q599,1377 646,1472 H763 Z" transform="translate(437.43,531.40) scale(0.00801,-0.00801)" fill="#2c2c2c"/>
<text x="445.25" y="531.40" font-size="16.4" fill="#2c2c2c">7</text>
<circle cx="648" cy="58.2" r="10.9" fill="#fff" stroke="#1e1e1e" stroke-width="1.4"/>
<path d="M763,0 H583 V1147 Q518,1085 412,1023 Q306,961 222,930 V1104 Q373,1175 486,1276 Q599,1377 646,1472 H763 Z" transform="translate(643.58,63.80) scale(0.00776,-0.00776)" fill="#2c2c2c"/>
<text x="666.2" y="63.7" font-size="15.6" fill="#2c2c2c">IP-камера</text>
<circle cx="648" cy="82.6" r="10.9" fill="#fff" stroke="#1e1e1e" stroke-width="1.4"/>
<text x="643.58" y="88.20" font-size="15.9" fill="#2c2c2c">2</text>
<text x="666.2" y="87" font-size="15.6" fill="#2c2c2c">Подсветка для IP-камеры</text>
<text x="666.2" y="104" font-size="15.6" fill="#2c2c2c">светодиодами инфракрасного и</text>
<text x="666.2" y="120.8" font-size="15.6" fill="#2c2c2c">белого свечения</text>
<circle cx="648" cy="140.7" r="10.9" fill="#fff" stroke="#1e1e1e" stroke-width="1.4"/>
<text x="643.58" y="146.30" font-size="15.9" fill="#2c2c2c">3</text>
<text x="666.2" y="146" font-size="15.6" fill="#2c2c2c">Графический OLED-дисплей</text>
<circle cx="648" cy="165.2" r="10.9" fill="#fff" stroke="#1e1e1e" stroke-width="1.4"/>
<text x="643.58" y="170.80" font-size="15.9" fill="#2c2c2c">4</text>
<text x="666.2" y="168.8" font-size="15.6" fill="#2c2c2c">Кнопка вызова экстренных служб</text>
<text x="666.2" y="185.5" font-size="15.6" fill="#2c2c2c">(резерв)</text>
<circle cx="648" cy="204.9" r="10.9" fill="#fff" stroke="#1e1e1e" stroke-width="1.4"/>
<text x="643.58" y="210.50" font-size="15.9" fill="#2c2c2c">5</text>
<text x="666.2" y="210.2" font-size="15.6" fill="#2c2c2c">Громкоговоритель</text>
<circle cx="648" cy="229.9" r="10.9" fill="#fff" stroke="#1e1e1e" stroke-width="1.4"/>
<text x="643.58" y="235.50" font-size="15.9" fill="#2c2c2c">6</text>
<text x="666.2" y="235.2" font-size="15.6" fill="#2c2c2c">Кнопка для вывода</text>
<text x="666.2" y="252" font-size="15.6" fill="#2c2c2c">информационных сообщений на</text>
<text x="666.2" y="268.8" font-size="15.6" fill="#2c2c2c">дисплей</text>
<circle cx="648" cy="288.1" r="10.9" fill="#fff" stroke="#1e1e1e" stroke-width="1.4"/>
<text x="643.58" y="293.70" font-size="15.9" fill="#2c2c2c">7</text>
<text x="666.2" y="293" font-size="15.6" fill="#2c2c2c">Кнопка вызова консьержа</text>
<circle cx="648" cy="311.6" r="10.9" fill="#fff" stroke="#1e1e1e" stroke-width="1.4"/>
<text x="643.58" y="317.20" font-size="15.9" fill="#2c2c2c">8</text>
<text x="666.2" y="317" font-size="15.6" fill="#2c2c2c">Клавиатура</text>
<circle cx="648" cy="335.1" r="10.9" fill="#fff" stroke="#1e1e1e" stroke-width="1.4"/>
<text x="643.58" y="340.70" font-size="15.9" fill="#2c2c2c">9</text>
<text x="666.2" y="340.4" font-size="15.6" fill="#2c2c2c">Микрофон</text>
<circle cx="648" cy="358.4" r="10.9" fill="#fff" stroke="#1e1e1e" stroke-width="1.4"/>
<path d="M763,0 H583 V1147 Q518,1085 412,1023 Q306,961 222,930 V1104 Q373,1175 486,1276 Q599,1377 646,1472 H763 Z" transform="translate(639.41,364.00) scale(0.00776,-0.00776)" fill="#2c2c2c"/>
<text x="645.95" y="364.00" font-size="15.9" fill="#2c2c2c">0</text>
<text x="666.2" y="363.9" font-size="15.6" fill="#2c2c2c" textLength="244.6" lengthAdjust="spacingAndGlyphs">Считыватель ключей RF 13.56 МГц</text>
<circle cx="648" cy="380.5" r="10.9" fill="#fff" stroke="#1e1e1e" stroke-width="1.4"/>
<path d="M763,0 H583 V1147 Q518,1085 412,1023 Q306,961 222,930 V1104 Q373,1175 486,1276 Q599,1377 646,1472 H763 Z" transform="translate(639.41,386.10) scale(0.00776,-0.00776)" fill="#2c2c2c"/>
<path d="M763,0 H583 V1147 Q518,1085 412,1023 Q306,961 222,930 V1104 Q373,1175 486,1276 Q599,1377 646,1472 H763 Z" transform="translate(645.95,386.10) scale(0.00776,-0.00776)" fill="#2c2c2c"/>
<circle cx="648" cy="424.3" r="10.9" fill="#fff" stroke="#1e1e1e" stroke-width="1.4"/>
<path d="M763,0 H583 V1147 Q518,1085 412,1023 Q306,961 222,930 V1104 Q373,1175 486,1276 Q599,1377 646,1472 H763 Z" transform="translate(639.41,429.90) scale(0.00776,-0.00776)" fill="#2c2c2c"/>
<text x="645.95" y="429.90" font-size="15.9" fill="#2c2c2c">2</text>
<text x="666.2" y="429" font-size="15.6" fill="#2c2c2c" textLength="242.6" lengthAdjust="spacingAndGlyphs">Кнопка подтверждения настройки</text>
<circle cx="648" cy="464.8" r="10.9" fill="#fff" stroke="#1e1e1e" stroke-width="1.4"/>
<path d="M763,0 H583 V1147 Q518,1085 412,1023 Q306,961 222,930 V1104 Q373,1175 486,1276 Q599,1377 646,1472 H763 Z" transform="translate(639.41,470.40) scale(0.00776,-0.00776)" fill="#2c2c2c"/>
<text x="645.95" y="470.40" font-size="15.9" fill="#2c2c2c">3</text>
<circle cx="648" cy="505.3" r="10.9" fill="#fff" stroke="#1e1e1e" stroke-width="1.4"/>
<path d="M763,0 H583 V1147 Q518,1085 412,1023 Q306,961 222,930 V1104 Q373,1175 486,1276 Q599,1377 646,1472 H763 Z" transform="translate(639.41,510.90) scale(0.00776,-0.00776)" fill="#2c2c2c"/>
<text x="645.95" y="510.90" font-size="15.9" fill="#2c2c2c">4</text>
<text x="666.2" y="510" font-size="15.6" fill="#2c2c2c" textLength="235.8" lengthAdjust="spacingAndGlyphs">Розетка RJ-45 для подключения</text>
<text x="666.2" y="527" font-size="15.6" fill="#2c2c2c">к сети провайдера</text>
<circle cx="648" cy="543.9" r="10.9" fill="#fff" stroke="#1e1e1e" stroke-width="1.4"/>
<path d="M763,0 H583 V1147 Q518,1085 412,1023 Q306,961 222,930 V1104 Q373,1175 486,1276 Q599,1377 646,1472 H763 Z" transform="translate(639.41,549.50) scale(0.00776,-0.00776)" fill="#2c2c2c"/>
<text x="645.95" y="549.50" font-size="15.9" fill="#2c2c2c">5</text>
<text x="666.2" y="549.6" font-size="15.6" fill="#2c2c2c" textLength="213.6" lengthAdjust="spacingAndGlyphs">Хомут для крепления кабеля</text>
<circle cx="648" cy="566.4" r="10.9" fill="#fff" stroke="#1e1e1e" stroke-width="1.4"/>
<path d="M763,0 H583 V1147 Q518,1085 412,1023 Q306,961 222,930 V1104 Q373,1175 486,1276 Q599,1377 646,1472 H763 Z" transform="translate(639.41,572.00) scale(0.00776,-0.00776)" fill="#2c2c2c"/>
<text x="645.95" y="572.00" font-size="15.9" fill="#2c2c2c">6</text>
<text x="666.2" y="571.6" font-size="15.6" fill="#2c2c2c" textLength="239" lengthAdjust="spacingAndGlyphs">Клеммы для подключения блока</text>
<text x="666.2" y="590.5" font-size="15.6" fill="#2c2c2c">вызова</text>
<circle cx="648" cy="608" r="10.9" fill="#fff" stroke="#1e1e1e" stroke-width="1.4"/>
<path d="M763,0 H583 V1147 Q518,1085 412,1023 Q306,961 222,930 V1104 Q373,1175 486,1276 Q599,1377 646,1472 H763 Z" transform="translate(639.41,613.60) scale(0.00776,-0.00776)" fill="#2c2c2c"/>
<text x="645.95" y="613.60" font-size="15.9" fill="#2c2c2c">7</text>
<text x="666.2" y="630.8" font-size="15.6" fill="#2c2c2c" textLength="202.3" lengthAdjust="spacingAndGlyphs">для согласования волнового</text>
<text x="666.2" y="648.6" font-size="15.6" fill="#2c2c2c" textLength="244.1" lengthAdjust="spacingAndGlyphs">сопротивления линии интерфейса</text>
<text x="666.2" y="666" font-size="15.6" fill="#2c2c2c">RS-485</text>
<text x="666.2" y="385.9" font-size="15.6" fill="#2c2c2c">Кнопка</text>
<text x="740.3" y="385.9" font-size="15.6" fill="#2c2c2c" textLength="136.1" lengthAdjust="spacingAndGlyphs">для переключения</text>
<text x="666.2" y="403.2" font-size="15.6" fill="#2c2c2c" textLength="174.6" lengthAdjust="spacingAndGlyphs">страниц меню настроек</text>
<path d="M728.9,377.09999999999997 V387.9 M724.7,383.5 L728.9,387.9 L733.1,383.5" fill="none" stroke="#2c2c2c" stroke-width="1.25"/>
<text x="666.2" y="469" font-size="15.6" fill="#2c2c2c">Кнопка</text>
<text x="740.3" y="469" font-size="15.6" fill="#2c2c2c" textLength="136.1" lengthAdjust="spacingAndGlyphs">для переключения</text>
<text x="666.2" y="486.3" font-size="15.6" fill="#2c2c2c" textLength="174.6" lengthAdjust="spacingAndGlyphs">страниц меню настроек</text>
<path d="M728.9,470 V459.4 M724.7,463.8 L728.9,459.4 L733.1,463.8" fill="none" stroke="#2c2c2c" stroke-width="1.25"/>
<text x="666.2" y="445.6" font-size="15.6" fill="#2c2c2c" textLength="155" lengthAdjust="spacingAndGlyphs">(дублируется кнопкой</text>
<text x="848.6" y="445.6" font-size="15.6" fill="#2c2c2c">)</text>
<path d="M834,436.8 L832.4,448 M839.2,436.8 L837.6,448 M830.4,440 H841.8 M829.9,445.2 H841.3" fill="none" stroke="#111" stroke-width="2.4" stroke-linecap="round"/>
<text x="666.2" y="613.4" font-size="15.6" fill="#2c2c2c" textLength="224" lengthAdjust="spacingAndGlyphs">Перемычка <tspan font-weight="bold">RT</tspan>. Предназначена</text>
<text x="271.5" y="721.5" font-size="29.6" font-weight="bold" fill="#222" textLength="399" lengthAdjust="spacingAndGlyphs">Внешний вид блока вызова</text>
</svg>
</body></html>
